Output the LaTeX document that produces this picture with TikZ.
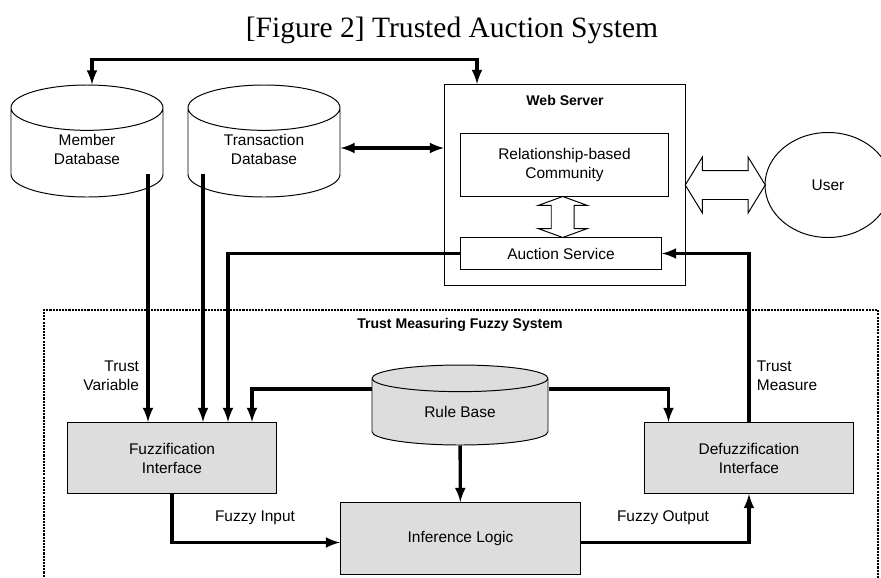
\documentclass[tikz,border=0pt]{standalone}
\usepackage{fontspec}
\setmainfont{Liberation Sans}
\newfontfamily\titlefont{Liberation Serif}
\usetikzlibrary{shapes,arrows,positioning,calc}
\definecolor{fuzzy-gray}{RGB}{221,221,221}
\tikzstyle{a}=[anchor=north west]
\tikzstyle{box}=[a,draw,rectangle,line width=0.7pt,align=center]
\tikzstyle{proc}=[box,fill=fuzzy-gray]
\tikzstyle{db}=[draw,cylinder,shape border rotate=90,anchor=shape center,line width=0.7pt,align=center]
\tikzstyle{hollow}=[draw,double arrow,line width=0.7pt,inner xsep=0pt,fill=white]
\tikzstyle{arrow}=[draw,-latex,line width=2.4pt]
\tikzstyle{biarrow}=[draw,latex-latex,line width=2.4pt]
\tikzstyle{frame}=[a,draw,line width=1.5pt,dash pattern=on 1.5pt off 0.75pt]
\tikzstyle{heading}=[font=\bfseries]

\begin{document}
\begin{tikzpicture}[font=\fontsize{11}{13.5}\selectfont]
    \useasboundingbox (0,0) rectangle (22.025,-14.425);

    \node[font=\titlefont\fontsize{21}{25}\selectfont] at (11.3,-0.75) (title) {[Figure 2] Trusted Auction System};

    % databases and web server
    \node[db, minimum width=3.8cm, minimum height=2.8cm, aspect=0.6] at (2.175,-3.525) (member) {\phantom{Member}\\\phantom{Database}};
    \node[align=center] at ([yshift=-0.2cm]member.shape center) (memberlabel) {Member\\Database};
    \node[db, minimum width=3.8cm, minimum height=2.8cm, aspect=0.6] at (6.6,-3.525) (transaction) {\phantom{Member}\\\phantom{Database}};
    \node[align=center] at ([yshift=-0.2cm]transaction.shape center) (transactionlabel) {Transaction\\Database};

    \node[box, minimum width=6.025cm, minimum height=5.025cm] at (11.1,-2.1) (web) {};
    \node[heading] at (14.125,-2.5) (weblabel) {Web Server};
    \node[box, minimum width=5.2cm, minimum height=1.575cm] at (11.5,-3.325) (community) {Relationship-based\\Community};
    \node[box, minimum width=5.025cm, minimum height=0.8cm] at (11.5,-5.925) (auction) {Auction Service};
    \node[hollow, rotate=90, minimum height=1.025cm, inner ysep=0.275cm, double arrow head extend=0.325cm, double arrow tip angle=140] at ($(community.south)!0.5!(auction.north)$) (inner) {};

    \node[draw, ellipse, line width=0.7pt, minimum width=3.15cm, minimum height=2.625cm] at (20.7,-4.625) (user) {User};
    \node[hollow, minimum height=2cm, inner ysep=0.35cm, double arrow head extend=0.3375cm, double arrow tip angle=117] at ($(web.east)!0.5!(user.west)$) (access) {};

    % fuzzy system
    \node[frame, minimum width=20.85cm, minimum height=7.2cm] at (1.075,-7.725) (fuzzy) {};
    \node[heading] at (11.5,-8.125) (fuzzylabel) {Trust Measuring Fuzzy System};
    \node[proc, minimum width=5.225cm, minimum height=1.775cm] at (1.675,-10.55) (fuzz) {Fuzzification\\Interface};
    \node[proc, minimum width=5.225cm, minimum height=1.775cm] at (16.1,-10.55) (defuzz) {Defuzzification\\Interface};
    \node[db, fill=fuzzy-gray, minimum width=4.4cm, minimum height=2cm, aspect=0.33] at (11.5,-10.125) (rules) {\phantom{Rule Base}};
    \node at ([yshift=-0.175cm]rules.shape center) (ruleslabel) {Rule Base};
    \node[proc, minimum width=6cm, minimum height=1.8cm] at (8.5,-12.55) (inference) {Inference Logic};

    \node[anchor=east, align=right] at (3.6,-9.39) (trustvar) {Trust\\Variable};
    \node[anchor=west, align=left] at (18.8,-9.39) (trustmeas) {Trust\\Measure};
    \node at (6.375,-12.95) (fin) {Fuzzy Input};
    \node at (16.575,-12.95) (fout) {Fuzzy Output};

    \coordinate (mcol) at (3.7,0);
    \coordinate (tcol) at (5.075,0);
    \coordinate (acol) at (5.7,0);
    \coordinate (rcol) at (6.3,0);

    \draw[biarrow] ([xshift=0.125cm]member.north) -- ++(0,0.625) -| ([xshift=0.825cm]web.north west);
    \draw[biarrow] ([yshift=-0.175cm]transaction.shape center -| transaction.east) -- ([yshift=-0.175cm]transaction.shape center -| web.west);

    \draw[arrow] (member.after bottom -| mcol) -- (fuzz.north -| mcol);
    \draw[arrow] (transaction.after bottom -| tcol) -- (fuzz.north -| tcol);
    \draw[arrow] (auction.west) -| (fuzz.north -| acol);
    \draw[arrow] ([yshift=0.4cm]rules.shape center -| rules.west) -| (fuzz.north -| rcol);
    \draw[arrow] (rules) -- (inference);
    \draw[arrow] ([yshift=0.4cm]rules.shape center -| rules.east) -| ([xshift=-2.0125cm]defuzz.north);
    \draw[arrow] (defuzz.north) |- (auction.east);
    \draw[arrow] (fuzz.south) |- ([yshift=-0.1cm]inference.west);
    \draw[arrow] ([yshift=-0.1cm]inference.east) -| (defuzz.south);
\end{tikzpicture}
\end{document}
